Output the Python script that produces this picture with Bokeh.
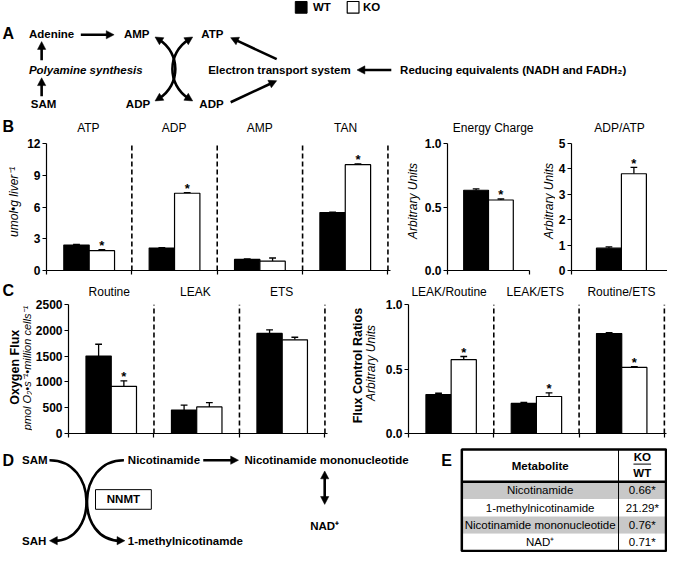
import math
from bokeh.plotting import figure
from bokeh.layouts import row, column
from bokeh.models import Range1d, FixedTicker, PrintfTickFormatter
from bokeh.core.properties import value
from bokeh.embed import file_html
from bokeh.resources import INLINE

FONT = "Liberation Sans"

# ---------------- data ----------------
groups = ["WT", "KO"]

b_cats = ["ATP", "ADP", "AMP", "TAN"]
b_wt = [2.40, 2.12, 1.05, 5.48]
b_wt_err = [0.06, 0.05, 0.04, 0.03]
b_ko = [1.87, 7.30, 0.88, 10.00]
b_ko_err = [0.09, 0.06, 0.30, 0.08]
b_sig = [True, True, False, True]

ec_cats = ["Energy Charge"]
ec_wt, ec_wt_err = [0.632], [0.010]
ec_ko, ec_ko_err = [0.555], [0.008]
ec_sig = [True]

ra_cats = ["ADP/ATP"]
ra_wt, ra_wt_err = [0.88], [0.05]
ra_ko, ra_ko_err = [3.81], [0.25]
ra_sig = [True]

c_cats = ["Routine", "LEAK", "ETS"]
c_wt = [1500, 455, 1940]
c_wt_err = [230, 95, 70]
c_ko = [915, 515, 1815]
c_ko_err = [105, 85, 50]
c_sig = [True, False, False]

f_cats = ["LEAK/Routine", "LEAK/ETS", "Routine/ETS"]
f_wt = [0.302, 0.233, 0.775]
f_wt_err = [0.010, 0.008, 0.007]
f_ko = [0.572, 0.287, 0.512]
f_ko_err = [0.025, 0.028, 0.007]
f_sig = [True, True, True]

metabolites = ["Nicotinamide", "1-methylnicotinamide",
               "Nicotinamide mononucleotide", "NAD\u207a"]
ko_wt_ratio = [0.66, 21.29, 0.76, 0.71]
ko_wt_sig = [True, True, True, True]

# ---------------- geometry helpers (design space = reference pixels) ----------------
RX0, RX1, RY0, RY1 = 2.0, 683.0, 3.0, 567.0
SX = 667.0 / (RX1 - RX0)
SY = 552.0 / (RY1 - RY0)


def PX(r):
    return int(round((r - RX0) * SX))


def PY(r):
    return int(round((r - RY0) * SY))


def base_fig(x0, x1, y0, y1, **kw):
    return figure(width=PX(x1) - PX(x0), height=PY(y1) - PY(y0),
                  toolbar_location=None, output_backend="svg",
                  background_fill_color="white", border_fill_color="white",
                  outline_line_color=None, **kw)


def canvas(x0, x1, y0, y1):
    p = base_fig(x0, x1, y0, y1, x_range=Range1d(x0, x1), y_range=Range1d(-y1, -y0),
                 x_axis_type=None, y_axis_type=None, min_border=0)
    p.min_border_left = p.min_border_right = 0
    p.min_border_top = p.min_border_bottom = 0
    p.grid.visible = False
    return p


def T(p, x, y, s, size=11.5, bold=True, italic=False, align="left", angle=0.0):
    style = ("bold " if bold else "") + ("italic" if italic else "")
    style = style.strip() or "normal"
    p.text(x=[x], y=[-y], text=[s], angle=angle, text_font=value(FONT),
           text_font_size=f"{size}px", text_font_style=style, text_align=align,
           text_baseline="middle", text_color="black")


def unit(dx, dy):
    n = math.hypot(dx, dy)
    return dx / n, dy / n


def head(p, tip, ux, uy, L=8.0, Wd=4.2):
    bx, by = tip[0] - L * ux, tip[1] - L * uy
    nx, ny = -uy, ux
    p.patch([tip[0], bx + Wd * nx, bx - Wd * nx],
            [-tip[1], -(by + Wd * ny), -(by - Wd * ny)],
            fill_color="black", line_color="black", line_width=0.5)


def arrow(p, tail, tip, both=False, lw=2.6, L=8.0):
    ux, uy = unit(tip[0] - tail[0], tip[1] - tail[1])
    ex, ey = tip[0] - ux * (L - 2), tip[1] - uy * (L - 2)
    sx, sy = tail
    if both:
        sx, sy = tail[0] + ux * (L - 2), tail[1] + uy * (L - 2)
        head(p, tail, -ux, -uy, L)
    p.line([sx, ex], [-sy, -ey], line_width=lw, line_color="black")
    head(p, tip, ux, uy, L)


def curve(p, s, c1, c2, e, head_start=False, head_end=True, lw=2.6, ext=5.0):
    p.bezier(x0=[s[0]], y0=[-s[1]], x1=[e[0]], y1=[-e[1]],
             cx0=[c1[0]], cy0=[-c1[1]], cx1=[c2[0]], cy1=[-c2[1]],
             line_width=lw, line_color="black")
    if head_end:
        ux, uy = unit(e[0] - c2[0], e[1] - c2[1])
        head(p, (e[0] + ux * ext, e[1] + uy * ext), ux, uy)
    if head_start:
        ux, uy = unit(s[0] - c1[0], s[1] - c1[1])
        head(p, (s[0] + ux * ext, s[1] + uy * ext), ux, uy)


def bar_panel(fx0, fx1, fy0, fy1, ax0, cat_w, x_end, ay0, ay1,
              wt, wt_err, ko, ko_err, sig, ymax, ticks, fmt,
              bar_px=26.0, dashed=True):
    n = len(wt)
    fr_right = ax0 + cat_w * x_end
    p = base_fig(fx0, fx1, fy0, fy1, x_range=Range1d(0, x_end), y_range=Range1d(0, ymax),
                 min_border_left=PX(ax0) - PX(fx0),
                 min_border_right=PX(fx1) - PX(fr_right),
                 min_border_top=PY(ay0) - PY(fy0),
                 min_border_bottom=PY(fy1) - PY(ay1))
    p.xgrid.visible = False
    p.ygrid.visible = False

    ya = p.yaxis[0]
    ya.ticker = FixedTicker(ticks=ticks)
    ya.formatter = PrintfTickFormatter(format=fmt)
    ya.major_label_text_font = FONT
    ya.major_label_text_font_size = "12px"
    ya.major_label_text_font_style = "bold"
    ya.major_label_text_color = "black"
    ya.major_label_standoff = 2
    ya.major_tick_out = 4
    ya.major_tick_in = 0
    ya.minor_tick_out = 0
    ya.minor_tick_in = 0
    ya.axis_line_color = "black"
    ya.axis_line_width = 1.2
    ya.major_tick_line_width = 1.2

    # category axis: only boundary tick marks (as minor ticks, so no labels)
    xa = p.xaxis[0]
    xa.ticker = FixedTicker(ticks=[],
                            minor_ticks=[k for k in range(n + 1) if k <= x_end + 1e-9])
    xa.major_tick_out = 0
    xa.major_tick_in = 0
    xa.minor_tick_out = 4
    xa.minor_tick_in = 0
    xa.minor_tick_line_color = "black"
    xa.minor_tick_line_width = 1.2
    xa.axis_line_color = "black"
    xa.axis_line_width = 1.2

    bw = bar_px / cat_w
    cap = 3.5 / cat_w
    xc = [i + 0.5 for i in range(n)]
    x_wt = [c - bw / 2 for c in xc]
    x_ko = [c + bw / 2 for c in xc]

    if dashed:
        bnd = list(range(1, n + 1))
        p.segment(x0=bnd, y0=[0] * n, x1=bnd, y1=[ymax] * n, line_color="black",
                  line_width=1.6, line_dash="5 3")

    for xs, vals, errs, fill in ((x_wt, wt, wt_err, "black"), (x_ko, ko, ko_err, "white")):
        tops = [v + e for v, e in zip(vals, errs)]
        p.segment(x0=xs, y0=vals, x1=xs, y1=tops, line_color="black", line_width=1.3)
        p.segment(x0=[x - cap for x in xs], y0=tops, x1=[x + cap for x in xs], y1=tops,
                  line_color="black", line_width=1.3)
        p.vbar(x=xs, top=vals, bottom=0, width=bw, fill_color=fill,
               line_color="black", line_width=1.2)

    sx = [x for x, s in zip(x_ko, sig) if s]
    sy = [v + e for v, e, s in zip(ko, ko_err, sig) if s]
    if sx:
        p.text(x=sx, y=sy, text=["*"] * len(sx), text_font=value(FONT),
               text_font_size="13px", text_font_style="bold", text_align="center",
               text_baseline="alphabetic", y_offset=-4, text_color="black")
    return p


# ---------------- band 1: legend, panel A, B titles ----------------
B1_END = 141
top = canvas(2, 683, 3, B1_END)
top.quad(left=[303], right=[315], top=[-4], bottom=[-16], fill_color="black", line_color="black")
T(top, 321, 10, groups[0])
top.quad(left=[356], right=[368], top=[-4], bottom=[-16], fill_color="white",
         line_color="black", line_width=1.2)
T(top, 372, 10, groups[1])

T(top, 4, 37, "A", size=16)
T(top, 31, 37, "Adenine")
arrow(top, (84, 38), (118, 38))
T(top, 128, 37, "AMP")
curve(top, (164, 43), (186, 57), (186, 89), (164, 103), head_start=True)
curve(top, (194, 43), (172, 57), (172, 89), (194, 103), head_start=True)
T(top, 207, 37, "ATP")
T(top, 31, 74, "Polyamine synthesis", bold=True, italic=True)
arrow(top, (44, 64), (44, 45))
arrow(top, (44, 101), (44, 82))
T(top, 33, 109, "SAM")
T(top, 130, 109, "ADP")
T(top, 205, 109, "ADP")
T(top, 214, 74, "Electron transport system")
arrow(top, (284, 63), (237, 41))
arrow(top, (237, 107), (284, 85))
arrow(top, (401, 74), (366, 74))
T(top, 410, 74, "Reducing equivalents (NADH and FADH\u2082)")

T(top, 4, 132, "B", size=16)
for i, c in enumerate(b_cats):
    T(top, 48 + 87.5 * (i + 0.5), 133, c, size=12, bold=False, align="center")
T(top, 505, 133, ec_cats[0], size=12, bold=False, align="center")
T(top, 634, 133, ra_cats[0], size=12, bold=False, align="center")

# ---------------- band 2: panel B charts ----------------
BY0, BY1 = B1_END, 287
lb1 = canvas(2, 27, BY0, BY1)
T(lb1, 16, 208, "umol\u2022g liver\u207b\u00b9", size=12, bold=False, italic=True,
  align="center", angle=math.pi / 2)
b1 = bar_panel(27, 405, BY0, BY1, 48, 87.5, 4.03, 147, 279,
               b_wt, b_wt_err, b_ko, b_ko_err, b_sig, 12, [0, 3, 6, 9, 12], "%d")
lb2 = canvas(405, 432, BY0, BY1)
T(lb2, 423, 207, "Arbitrary Units", size=12, bold=False, italic=True,
  align="center", angle=math.pi / 2)
b2 = bar_panel(432, 548, BY0, BY1, 456, 86, 1.0, 149, 279,
               ec_wt, ec_wt_err, ec_ko, ec_ko_err, ec_sig, 1.0, [0, 0.5, 1.0], "%.1f",
               dashed=False)
lb3 = canvas(548, 569, BY0, BY1)
T(lb3, 562, 207, "Arbitrary Units", size=12, bold=False, italic=True,
  align="center", angle=math.pi / 2)
b3 = bar_panel(569, 683, BY0, BY1, 583, 104, (683 - 583) / 104.0, 149, 279,
               ra_wt, ra_wt_err, ra_ko, ra_ko_err, ra_sig, 5, [0, 1, 2, 3, 4, 5], "%d",
               dashed=False)

# ---------------- band 3: C titles ----------------
CT0, CT1 = BY1, 307
ct = canvas(2, 683, CT0, CT1)
T(ct, 4, 299, "C", size=16)
for i, c in enumerate(c_cats):
    T(ct, 69 + 88 * (i + 0.5), 300, c, size=12, bold=False, align="center")
for i, c in enumerate(f_cats):
    T(ct, 416 + 88 * (i + 0.5), 300, c, size=12, bold=False, align="center")

# ---------------- band 4: panel C charts ----------------
CY0, CY1 = CT1, 455
lc1 = canvas(2, 35, CY0, CY1)
T(lc1, 17, 379, "Oxygen Flux", size=12.5, bold=True, align="center", angle=math.pi / 2)
T(lc1, 29, 380, "pmol O\u2082\u2022s\u207b\u00b9\u2022million cells\u207b\u00b9", size=11,
  bold=False, italic=True, align="center", angle=math.pi / 2)
c1 = bar_panel(35, 345, CY0, CY1, 69, 88, 3.03, 314, 445,
               c_wt, c_wt_err, c_ko, c_ko_err, c_sig, 2500,
               [0, 500, 1000, 1500, 2000, 2500], "%d")
lc2 = canvas(345, 392, CY0, CY1)
T(lc2, 367, 377, "Flux Control Ratios", size=12.5, bold=True, align="center",
  angle=math.pi / 2)
T(lc2, 380, 374, "Arbitrary Units", size=12, bold=False, italic=True, align="center",
  angle=math.pi / 2)
c2 = bar_panel(392, 683, CY0, CY1, 416, 88, 3.025, 314, 445,
               f_wt, f_wt_err, f_ko, f_ko_err, f_sig, 1.0, [0, 0.5, 1.0], "%.1f")

# ---------------- band 5: panels D and E ----------------
bot = canvas(2, 683, CY1, 567)
T(bot, 4, 473, "D", size=16)
T(bot, 24, 473, "SAM")
T(bot, 24, 555, "SAH")
curve(bot, (52, 473), (101.5, 473), (101.5, 555), (57, 555))
curve(bot, (128, 473), (78.5, 473), (78.5, 555), (124, 555))
T(bot, 132, 473, "Nicotinamide")
arrow(bot, (209, 473), (245, 473))
T(bot, 251, 473, "Nicotinamide mononucleotide")
arrow(bot, (333, 484), (333, 518), both=True)
T(bot, 333, 540, "NAD\u207a", align="center")
bot.quad(left=[99], right=[156], top=[-503], bottom=[-523], fill_color="white",
         line_color="black", line_width=1)
T(bot, 127.5, 513, "NNMT", align="center")
T(bot, 132, 555, "1-methylnicotinamde")

T(bot, 452, 473, "E", size=16)
tx0, tx1, ty0, ty1 = 473.0, 681.5, 462.0, 565.5
tdiv, hdr = 633.0, 495.0
rh = (ty1 - hdr) / len(metabolites)
for i, m in enumerate(metabolites):
    r0 = hdr + i * rh
    r1 = r0 + rh
    fill = "#c8c8c8" if i % 2 == 0 else "white"
    bot.quad(left=[tx0], right=[tx1], top=[-r0], bottom=[-r1], fill_color=fill,
             line_color=None)
    T(bot, (tx0 + tdiv) / 2, (r0 + r1) / 2, m, size=11.5, bold=False, align="center")
    T(bot, (tdiv + tx1) / 2, (r0 + r1) / 2,
      f"{ko_wt_ratio[i]:.2f}" + ("*" if ko_wt_sig[i] else ""),
      size=11.5, bold=False, align="center")
bot.line([tdiv, tdiv], [-ty0, -ty1], line_color="black", line_width=1)
bot.line([tx0, tx1], [-hdr, -hdr], line_color="black", line_width=2.5)
bot.quad(left=[tx0], right=[tx1], top=[-ty0], bottom=[-ty1], fill_color=None,
         line_color="black", line_width=2.5)
T(bot, (tx0 + tdiv) / 2, 479, "Metabolite", align="center")
kc = (tdiv + tx1) / 2
T(bot, kc, 470, groups[1], align="center")
bot.line([kc - 9, kc + 9], [-477, -477], line_color="black", line_width=1)
T(bot, kc, 486, groups[0], align="center")

layout = column(top,
                row(lb1, b1, lb2, b2, lb3, b3),
                ct,
                row(lc1, c1, lc2, c2),
                bot)

open("out.html", "w").write(file_html(layout, INLINE))
